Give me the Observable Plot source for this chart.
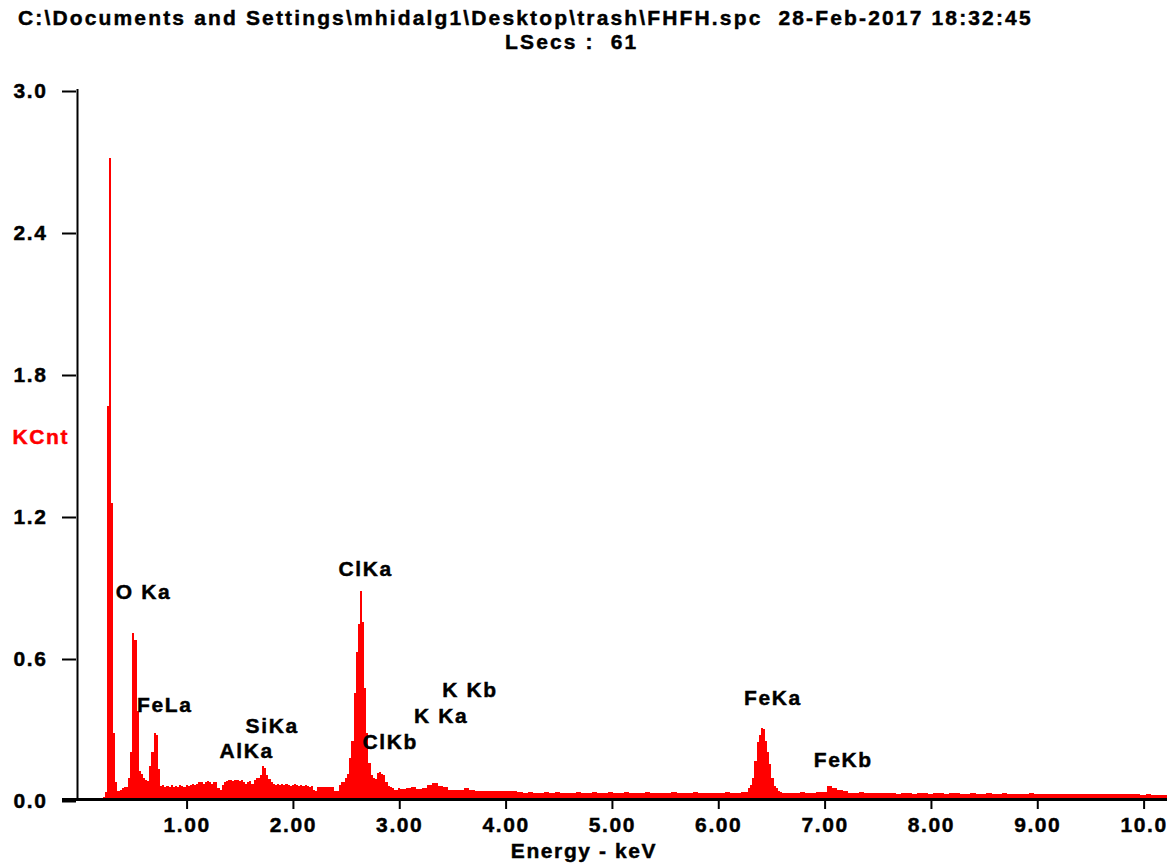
<!DOCTYPE html>
<html>
<head>
<meta charset="utf-8">
<script src="https://cdn.jsdelivr.net/npm/d3@7"></script>
<script src="https://cdn.jsdelivr.net/npm/@observablehq/plot@0.6"></script>
<style>
  html, body { margin: 0; padding: 0; background: #ffffff; }
  body { width: 1176px; height: 867px; position: relative; overflow: hidden; }
  .ttl { position: absolute; font-family: "Liberation Sans", Arial, sans-serif; font-weight: bold;
         font-size: 21px; line-height: 24px; letter-spacing: 2.15px; white-space: pre; color: #000;
         -webkit-text-stroke: 0.45px #000; }
  #chart { position: absolute; left: 0; top: 55px; }
</style>
</head>
<body>
<div class="ttl" id="t1" style="left:18px; top:6px;"></div>
<div class="ttl" id="t2" style="left:505px; top:30px;"></div>
<div id="chart"></div>
<script>
// ---- Text ----
const titleLine1 = "C:\\Documents and Settings\\mhidalg1\\Desktop\\trash\\FHFH.spc  28-Feb-2017 18:32:45";
const titleLine2 = "LSecs :  61";
const yAxisLabel = "KCnt";
const xAxisLabel = "Energy - keV";

// ---- Axes ----
const xDomain = [-0.04, 10.22];
const yDomain = [0, 3];
const xTicks = [1, 2, 3, 4, 5, 6, 7, 8, 9, 10];
const xTickLabels = ["1.00", "2.00", "3.00", "4.00", "5.00", "6.00", "7.00", "8.00", "9.00", "10.0"];
const yTicks = [0, 0.6, 1.2, 1.8, 2.4, 3.0];
const yTickLabels = ["0.0", "0.6", "1.2", "1.8", "2.4", "3.0"];

// ---- Spectrum (KCnt per channel) ----
// low-energy part: channels start at 0.21 keV, 0.02 keV wide
const lowStart = 0.21, lowStep = 0.02;
const countsLow = [
  0.01, 0.03, 1.66, 2.71, 1.25, 0.28, 0.07, 0.035, 0.04, 0.045,
  0.05, 0.05, 0.09, 0.20, 0.70, 0.67, 0.37, 0.12, 0.105, 0.09,
  0.08, 0.075, 0.14, 0.20, 0.28, 0.27, 0.127, 0.055, 0.06, 0.05,
  0.055, 0.05, 0.06, 0.05, 0.055, 0.05, 0.06, 0.055, 0.05, 0.06,
  0.055, 0.06, 0.065, 0.06, 0.065, 0.07, 0.07, 0.065, 0.07, 0.075,
  0.07, 0.065, 0.07, 0.07, 0.045, 0.04, 0.06, 0.07, 0.075, 0.08,
  0.08, 0.075, 0.08, 0.08, 0.075, 0.08, 0.07, 0.065, 0.07, 0.075,
  0.065, 0.08, 0.09, 0.09, 0.10, 0.14, 0.13, 0.10, 0.085, 0.07,
  0.065, 0.06, 0.065, 0.06, 0.065, 0.06, 0.065, 0.06, 0.055, 0.06,
  0.065, 0.06, 0.055, 0.06, 0.055, 0.06, 0.055, 0.05, 0.055, 0.04,
  0.035, 0.05, 0.05, 0.05, 0.05, 0.05, 0.05, 0.05, 0.05, 0.035,
  0.035, 0.06, 0.07, 0.07, 0.09, 0.105, 0.175, 0.245, 0.45, 0.62,
  0.74, 0.88, 0.75, 0.47, 0.28, 0.153, 0.10, 0.09, 0.085, 0.11,
  0.115, 0.105, 0.10, 0.07, 0.055, 0.05, 0.045, 0.04, 0.04, 0.045
];
// middle part: from 3.01 keV, 0.05 keV wide
const midStart = 3.01, midStep = 0.05;
const countsMid = [
  0.044, 0.045, 0.05, 0.044, 0.045, 0.06, 0.068, 0.055, 0.05, 0.04,
  0.038, 0.04, 0.045, 0.036, 0.034, 0.034, 0.035, 0.034, 0.034, 0.034,
  0.034, 0.033, 0.028, 0.027, 0.03, 0.027, 0.026, 0.028, 0.027, 0.03,
  0.027, 0.026, 0.027, 0.028, 0.025, 0.027, 0.03, 0.026, 0.027, 0.028,
  0.026, 0.027, 0.03, 0.025, 0.027, 0.026, 0.028, 0.025, 0.027, 0.026,
  0.027, 0.029, 0.025, 0.027, 0.026, 0.028, 0.027, 0.025, 0.027, 0.026,
  0.027, 0.028, 0.026, 0.027, 0.03
];
// Fe K-alpha region: from 6.26 keV, 0.02 keV wide
const feStart = 6.26, feStep = 0.02;
const countsFe = [
  0.03, 0.048, 0.06, 0.09, 0.16, 0.24, 0.27, 0.30, 0.295, 0.245,
  0.20, 0.148, 0.09, 0.055, 0.045, 0.034, 0.03, 0.027
];
// high-energy part: from 6.62 keV, 0.05 keV wide
const highStart = 6.62, highStep = 0.05;
const countsHigh = [
  0.027, 0.025, 0.027, 0.03, 0.025, 0.027, 0.028, 0.03, 0.055, 0.048,
  0.04, 0.032, 0.027, 0.025, 0.03, 0.025, 0.024, 0.026, 0.025, 0.024,
  0.025, 0.023, 0.026, 0.024, 0.023, 0.025, 0.024, 0.022, 0.025, 0.024,
  0.023, 0.026, 0.024, 0.022, 0.023, 0.025, 0.023, 0.022, 0.024, 0.023,
  0.022, 0.024, 0.023, 0.021, 0.023, 0.022, 0.024, 0.022, 0.021, 0.023,
  0.022, 0.021, 0.023, 0.022, 0.02, 0.022, 0.021, 0.023, 0.021, 0.02,
  0.022, 0.021, 0.02, 0.022, 0.021, 0.02, 0.021, 0.019, 0.02, 0.019, 0.018, 0.018
];

// ---- Peak labels (energy keV, height KCnt) ----
const peakNames  = ["O Ka", "FeLa", "AlKa", "SiKa", "ClKa", "ClKb", "K Ka", "K Kb", "FeKa", "FeKb"];
const peakEnergy = [0.59, 0.79, 1.56, 1.80, 2.68, 2.91, 3.39, 3.66, 6.51, 7.17];
const peakHeight = [0.875, 0.397, 0.203, 0.308, 0.972, 0.241, 0.351, 0.461, 0.427, 0.165];

// ---- build table ----
function segment(start, step, counts) {
  return counts.map((c, i) => ({e: Math.round((start + i * step) * 1000) / 1000, c}));
}
const spectrum = [
  ...segment(lowStart, lowStep, countsLow),
  ...segment(midStart, midStep, countsMid),
  ...segment(feStart, feStep, countsFe),
  ...segment(highStart, highStep, countsHigh)
];
// closing edge of the last channel
spectrum.push({e: Math.round((highStart + countsHigh.length * highStep) * 1000) / 1000, c: countsHigh[countsHigh.length - 1]});

const peaks = peakNames.map((name, i) => ({name, e: peakEnergy[i], h: peakHeight[i]}));

document.getElementById("t1").textContent = titleLine1;
document.getElementById("t2").textContent = titleLine2;

const RED = "#ff0000";
const FONT = "'Liberation Sans', Arial, Helvetica, sans-serif";

const plot = Plot.plot({
  width: 1176,
  height: 812,
  marginLeft: 76,
  marginRight: 9,
  marginTop: 34,
  marginBottom: 68,
  style: {
    fontFamily: FONT,
    fontSize: "21px",
    fontWeight: "bold",
    letterSpacing: "1.6px",
    color: "#000",
    background: "#fff",
    overflow: "visible"
  },
  x: {domain: xDomain, axis: null},
  y: {domain: yDomain, axis: null},
  marks: [
    Plot.areaY(spectrum, {x: "e", y: "c", curve: "step-after", fill: RED, shapeRendering: "crispEdges"}),
    Plot.ruleX([xDomain[0]], {y1: yDomain[0], y2: yDomain[1], stroke: "#000", strokeWidth: 2, dx: 1}),
    Plot.ruleY([0], {stroke: "#000", strokeWidth: 3, insetLeft: -14}),
    Plot.axisX({
      ticks: xTicks,
      tickFormat: d => xTickLabels[xTicks.indexOf(d)],
      tickSize: 10,
      tickPadding: 8,
      strokeWidth: 2,
      fontSize: 21,
      label: null
    }),
    Plot.axisY({
      ticks: yTicks,
      tickFormat: d => yTickLabels[yTicks.indexOf(d)],
      tickSize: 14,
      tickPadding: 15,
      strokeWidth: 2,
      fontSize: 21,
      dy: 2,
      label: null
    }),
    Plot.text([yAxisLabel], {frameAnchor: "left", textAnchor: "start", dx: -64, dy: -7, fill: RED, fontSize: 21}),
    Plot.text([xAxisLabel], {frameAnchor: "bottom", textAnchor: "middle", dx: -38, dy: 58, fill: "#000", fontSize: 21}),
    Plot.text(peaks, {x: "e", y: "h", text: "name", textAnchor: "middle", fill: "#000", fontSize: 21})
  ]
});
document.getElementById("chart").appendChild(plot);

// thicken glyphs a little, in each text's own colour
d3.select(plot).selectAll("text").each(function() {
  const f = getComputedStyle(this).fill;
  this.style.stroke = f;
  this.style.strokeWidth = "0.45px";
});
</script>
</body>
</html>
